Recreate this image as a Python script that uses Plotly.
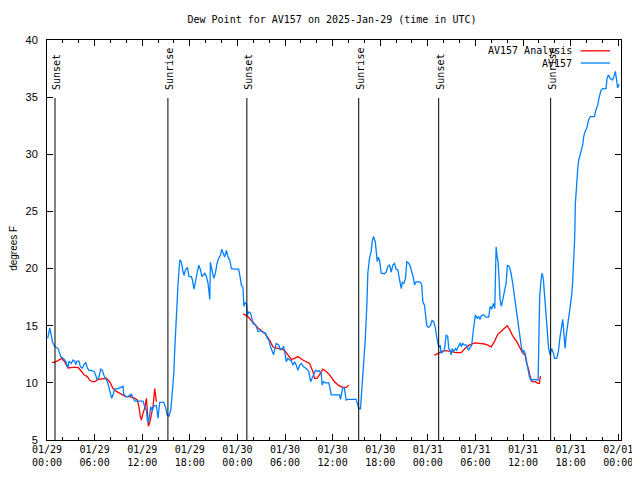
import pandas as pd
import plotly.graph_objects as go

BASE = pd.Timestamp("2025-01-29 00:00")

# AV157 observations: hours since 01/29 00:00 UTC, dew point (F)
obs_hours = [0.09, 0.34, 0.47, 0.68, 0.97, 1.39, 1.6, 1.73, 2.02, 2.35, 2.64, 2.78, 3.08, 3.28, 3.49, 3.62, 3.78, 4.03, 4.21, 4.46,
             4.66, 4.87, 5.09, 5.29, 5.59, 5.92, 6.13, 6.29, 6.54, 6.77, 6.98, 7.14, 7.36, 7.61, 7.78, 7.99, 8.15, 8.32, 8.53, 8.95,
             9.38, 9.58, 9.67, 9.92, 10.21, 10.63, 11.06, 11.68, 12.1, 12.32, 12.53, 12.65, 12.78, 12.94, 13.07, 13.29, 13.49, 13.79, 13.99, 14.21,
             14.72, 14.97, 15.13, 15.38, 15.6, 15.82, 15.98, 16.1, 16.23, 16.39, 16.52, 16.73, 16.94, 17.15, 17.28, 17.45, 17.7, 17.9, 18.2, 18.33,
             18.53, 18.75, 18.92, 19.13, 19.34, 19.54, 19.88, 20.09, 20.3, 20.43, 20.52, 20.6, 20.8, 21.02, 21.23, 21.43, 21.64, 21.89, 22.02, 22.18,
             22.39, 22.61, 22.82, 23.03, 23.24, 23.66, 24.16, 24.37, 24.5, 24.7, 24.82, 24.99, 25.16, 25.25, 25.45, 25.67, 25.96, 26.3, 26.59, 26.8,
             27.01, 27.22, 27.56, 27.77, 27.97, 28.15, 28.35, 28.56, 28.69, 28.9, 29.22, 29.41, 29.61, 29.82, 29.99, 30.16, 30.36, 30.57, 30.79, 30.99,
             31.21, 31.42, 31.62, 31.84, 32.05, 32.34, 32.67, 33.0, 33.22, 33.44, 33.6, 33.85, 34.14, 34.35, 34.56, 34.69, 34.85, 35.1, 35.53, 35.7,
             35.83, 36.24, 36.87, 36.99, 37.29, 37.5, 37.71, 37.91, 38.97, 39.17, 39.3, 39.51, 39.68, 39.9, 40.11, 40.31, 40.44, 40.65, 40.86, 40.99,
             41.15, 41.38, 41.5, 41.63, 41.75, 41.91, 42.13, 42.55, 42.76, 42.96, 43.17, 43.39, 43.59, 43.8, 44.01, 44.22, 44.43, 44.65, 44.78, 44.98,
             45.19, 45.35, 45.57, 45.78, 45.98, 46.2, 46.33, 46.45, 46.74, 47.08, 47.24, 47.37, 47.58, 47.7, 47.87, 48.08, 48.33, 48.54, 48.74, 48.93,
             49.05, 49.18, 49.38, 49.56, 49.68, 49.88, 50.09, 50.31, 50.51, 50.64, 50.82, 50.94, 51.07, 51.23, 51.48, 51.64, 51.89, 52.07, 52.23, 52.4,
             52.62, 52.91, 53.12, 53.33, 53.53, 53.74, 53.87, 53.99, 54.22, 54.42, 54.59, 54.72, 55.01, 55.35, 55.68, 55.86, 56.06, 56.27, 56.44, 56.61,
             56.74, 56.86, 56.99, 57.11, 57.27, 57.44, 57.66, 57.87, 58.03, 58.28, 58.49, 58.7, 58.91, 59.12, 59.33, 59.55, 59.76, 59.96, 60.08, 60.26,
             60.38, 60.59, 60.8, 61.01, 61.31, 61.9, 61.97, 62.1, 62.27, 62.4, 62.56, 62.72, 62.91, 63.07, 63.23, 63.41, 63.61, 63.82, 63.99, 64.25,
             64.46, 64.67, 64.79, 65.0, 65.12, 65.3, 65.42, 65.63, 65.84, 65.97, 66.13, 66.26, 66.39, 66.51, 66.6, 66.77, 66.9, 67.02, 67.2, 67.32,
             67.52, 67.65, 67.82, 68.02, 68.27, 68.49, 68.99, 69.2, 69.41, 69.62, 69.83, 70.04, 70.46, 70.59, 70.75, 70.97, 71.3, 71.51, 71.64, 71.79,
             71.92, 72.13]
obs_dewpt = [13.9, 14.8, 14.4, 13.6, 13.2, 13.0, 12.6, 12.3, 12.15, 11.9, 11.3, 11.9, 11.7, 12.0, 11.9, 11.6, 11.9, 11.9, 11.4, 11.3,
             11.6, 11.8, 11.3, 11.1, 11.1, 11.0, 10.7, 10.3, 10.5, 11.2, 11.1, 10.7, 10.4, 10.1, 9.7, 9.2, 8.65, 8.95, 9.45, 9.5,
             9.6, 9.7, 9.0, 8.8, 8.8, 9.0, 8.4, 8.4, 8.4, 7.9, 7.6, 6.75, 6.5, 7.2, 7.9, 7.6, 8.0, 8.0, 6.9, 8.3,
             8.3, 7.8, 7.2, 7.1, 7.6, 9.4, 10.8, 12.9, 14.9, 16.5, 18.7, 20.75, 20.55, 19.7, 19.4, 19.9, 20.1, 19.3, 19.3, 19.0,
             18.2, 19.0, 19.6, 20.3, 19.9, 19.3, 19.6, 19.3, 18.7, 17.8, 17.3, 20.55, 20.0, 19.15, 19.6, 20.45, 20.9, 21.2, 21.7, 21.3,
             21.0, 21.6, 21.0, 20.75, 20.0, 19.95, 19.95, 19.15, 18.55, 18.35, 16.7, 17.0, 16.9, 15.95, 16.2, 16.1, 15.2, 15.05, 14.5, 14.5,
             14.6, 14.4, 14.35, 13.9, 13.75, 13.2, 12.9, 12.45, 12.9, 13.45, 13.3, 12.9, 13.0, 13.2, 12.6, 11.85, 12.15, 12.0, 11.95, 11.55,
             11.85, 11.55, 11.1, 11.55, 11.7, 11.4, 11.25, 11.0, 10.1, 10.4, 10.7, 11.1, 11.0, 11.05, 10.8, 9.8, 10.1, 10.0, 10.0, 9.5,
             8.95, 8.95, 8.95, 8.55, 9.65, 9.5, 8.5, 8.55, 8.55, 8.05, 7.8, 7.7, 9.4, 11.7, 13.75, 16.7, 19.6, 20.9, 21.5, 22.35,
             22.8, 22.35, 21.6, 20.6, 21.0, 20.75, 19.6, 19.55, 19.7, 20.2, 20.3, 19.7, 20.3, 20.45, 19.95, 19.9, 19.05, 18.25, 18.8, 18.7,
             19.15, 20.6, 20.5, 20.2, 19.7, 19.15, 18.55, 18.8, 18.85, 18.8, 18.55, 17.1, 16.8, 15.95, 15.0, 14.85, 15.0, 15.45, 15.35, 14.9,
             14.1, 13.75, 13.1, 13.3, 12.6, 12.75, 12.85, 14.2, 14.05, 13.0, 12.85, 12.45, 13.0, 12.75, 13.0, 12.85, 13.3, 13.5, 13.15, 13.45,
             13.3, 13.3, 12.85, 13.15, 13.3, 14.6, 15.7, 15.95, 15.65, 15.8, 15.55, 15.85, 15.95, 15.75, 15.75, 16.7, 16.45, 16.95, 16.5, 21.9,
             21.0, 20.6, 19.0, 17.25, 16.7, 17.4, 18.0, 18.7, 20.3, 20.15, 19.6, 18.7, 17.55, 16.4, 15.2, 14.05, 13.3, 12.6, 12.85, 12.6,
             12.15, 11.4, 10.55, 10.2, 10.3, 10.25, 13.3, 17.5, 19.0, 19.6, 19.1, 17.5, 15.5, 13.75, 13.0, 12.45, 13.0, 12.6, 12.15, 12.15,
             12.75, 14.05, 14.8, 15.55, 14.6, 13.0, 14.05, 14.9, 16.1, 16.8, 17.65, 18.85, 20.45, 22.65, 25.7, 27.75, 28.75, 29.5, 29.95, 30.4,
             30.8, 31.55, 32.0, 32.25, 33.0, 33.3, 33.3, 33.9, 34.3, 35.05, 35.6, 35.75, 35.75, 36.65, 36.95, 36.65, 36.5, 36.95, 37.25, 36.5,
             35.8, 36.15]

# AV157 Analysis, three overnight segments
ana1_hours = [0.63, 0.97, 1.39, 1.82, 2.23, 2.64, 3.28, 3.9, 4.24, 4.66, 5.09, 5.38, 5.72, 6.01, 6.43, 6.85, 7.48, 7.9, 8.32, 8.74,
              9.38, 9.92, 10.42, 11.06, 11.39, 11.59, 11.77, 11.9, 12.1, 12.32, 12.53, 12.65, 12.78, 12.94, 13.16, 13.36, 13.58, 13.79]
ana1_dewpt = [11.8, 11.8, 11.95, 12.15, 11.85, 11.3, 11.35, 11.35, 11.1, 10.7, 10.55, 10.25, 10.1, 10.1, 10.3, 10.35, 10.4, 10.1, 9.5, 9.25,
              9.0, 8.8, 8.8, 8.65, 8.5, 7.9, 7.05, 6.75, 7.35, 7.8, 8.65, 7.6, 6.2, 6.5, 7.2, 7.9, 9.5, 8.35]
ana2_hours = [24.7, 25.32, 25.96, 26.59, 27.43, 28.06, 28.47, 28.81, 29.53, 29.95, 30.36, 30.79, 31.21, 31.62, 32.25, 32.67, 33.1, 33.51, 33.72, 34.01,
              34.35, 34.77, 35.2, 35.61, 36.24, 36.79, 37.29, 37.71, 38.04]
ana2_dewpt = [16.05, 15.8, 15.3, 14.8, 14.35, 13.75, 13.15, 13.05, 12.95, 12.85, 12.45, 12.05, 12.15, 12.3, 12.0, 11.85, 11.7, 11.0, 10.4, 10.4,
              10.7, 11.2, 11.0, 10.7, 10.1, 9.75, 9.6, 9.6, 9.8]
ana3_hours = [48.83, 49.47, 49.88, 50.51, 51.57, 52.2, 52.74, 53.24, 53.87, 54.51, 55.14, 55.56, 55.98, 56.39, 56.81, 57.23, 57.66, 58.0, 58.28, 58.7,
              59.21, 59.63, 59.96, 60.26, 60.46, 60.72, 60.89, 61.14, 61.56, 61.85, 62.06, 62.19]
ana3_dewpt = [12.4, 12.65, 12.8, 12.8, 12.65, 12.65, 13.05, 13.3, 13.5, 13.45, 13.4, 13.3, 13.15, 13.6, 14.25, 14.5, 14.8, 15.0, 14.7, 14.1,
              13.6, 13.05, 12.6, 12.45, 11.7, 11.15, 10.55, 10.1, 10.1, 9.95, 9.95, 10.6]

sun_hours = [1.01, 15.24, 25.19, 39.29, 49.37, 63.48]
sun_labels = ["Sunset", "Sunrise", "Sunset", "Sunrise", "Sunset", "Sunrise"]

series_names = ["AV157 Analysis", "AV157"]
series_colors = ["#ff0000", "#0080ff"]

title_text = "Dew Point for AV157 on 2025-Jan-29 (time in UTC)"
y_title = "degrees F"
x_end_hours = 72.35


def to_time(hours):
    return [BASE + pd.Timedelta(hours=h) if h is not None else None for h in hours]


ana_hours = ana1_hours + [None] + ana2_hours + [None] + ana3_hours
ana_dewpt = ana1_dewpt + [None] + ana2_dewpt + [None] + ana3_dewpt

MONO = "DejaVu Sans Mono"
SANS = "Liberation Sans"

fig = go.Figure()
fig.add_trace(go.Scatter(x=to_time(ana_hours), y=ana_dewpt, mode="lines", name=series_names[0],
                         line=dict(color=series_colors[0], width=1.3), connectgaps=False))
fig.add_trace(go.Scatter(x=to_time(obs_hours), y=obs_dewpt, mode="lines", name=series_names[1],
                         line=dict(color=series_colors[1], width=1.3)))

for h, lab in zip(sun_hours, sun_labels):
    t = BASE + pd.Timedelta(hours=h)
    fig.add_shape(type="line", xref="x", yref="paper", x0=t, x1=t, y0=0, y1=0.855,
                  line=dict(color="black", width=1))
    fig.add_annotation(x=t, xref="x", y=0.87, yref="paper", text=lab, textangle=-90,
                       showarrow=False, xanchor="center", yanchor="bottom", xshift=1,
                       font=dict(family=MONO, size=10, color="black"))

# gnuplot-style legend: text right-aligned, line sample on the right
leg_y = [0.973, 0.9425]
for name, col, yy in zip(series_names, series_colors, leg_y):
    fig.add_annotation(x=0.918, xref="paper", y=yy, yref="paper", text=name, showarrow=False,
                       xanchor="right", yanchor="middle", font=dict(family=MONO, size=10, color="black"))
    fig.add_shape(type="line", xref="paper", yref="paper", x0=0.9297, x1=0.9808, y0=yy, y1=yy,
                  line=dict(color=col, width=1.3))

# y-axis title as rotated text
fig.add_annotation(x=-0.0595, xref="paper", y=0.48, yref="paper", text=y_title, textangle=-90,
                   showarrow=False, xanchor="center", yanchor="middle", borderpad=0,
                   font=dict(family=SANS, size=10, color="black"))

# the page body has an 8px default margin, so the figure is sized to fit the window
fig.update_layout(
    width=632, height=472,
    margin=dict(l=39, r=19, t=32, b=40, autoexpand=False),
    paper_bgcolor="white", plot_bgcolor="white",
    showlegend=False,
    title=dict(text=title_text, x=0.4965, xref="paper", xanchor="center", y=0.975, yref="container",
               yanchor="middle", font=dict(family=MONO, size=10, color="black")),
)
fig.update_xaxes(
    type="date", automargin=False,
    range=[BASE, BASE + pd.Timedelta(hours=x_end_hours)],
    tickmode="linear", tick0=BASE, dtick=6 * 3600 * 1000,
    tickformat="%m/%d<br>%H:%M",
    ticks="inside", ticklen=6, tickcolor="black", tickwidth=1,
    minor=dict(dtick=2 * 3600 * 1000, ticks="inside", ticklen=3, tickcolor="black", showgrid=False),
    showline=True, linecolor="black", linewidth=1, mirror="ticks",
    showgrid=False, zeroline=False,
    tickfont=dict(family=MONO, size=10, color="black"),
)
fig.update_yaxes(
    automargin=False,
    range=[5, 40], tickmode="linear", tick0=5, dtick=5,
    ticks="inside", ticklen=6, tickcolor="black", tickwidth=1,
    showline=True, linecolor="black", linewidth=1, mirror="ticks",
    showgrid=False, zeroline=False,
    ticklabelstandoff=6,
    tickfont=dict(family=SANS, size=11, color="black"),
)

fig.write_html("out.html")
